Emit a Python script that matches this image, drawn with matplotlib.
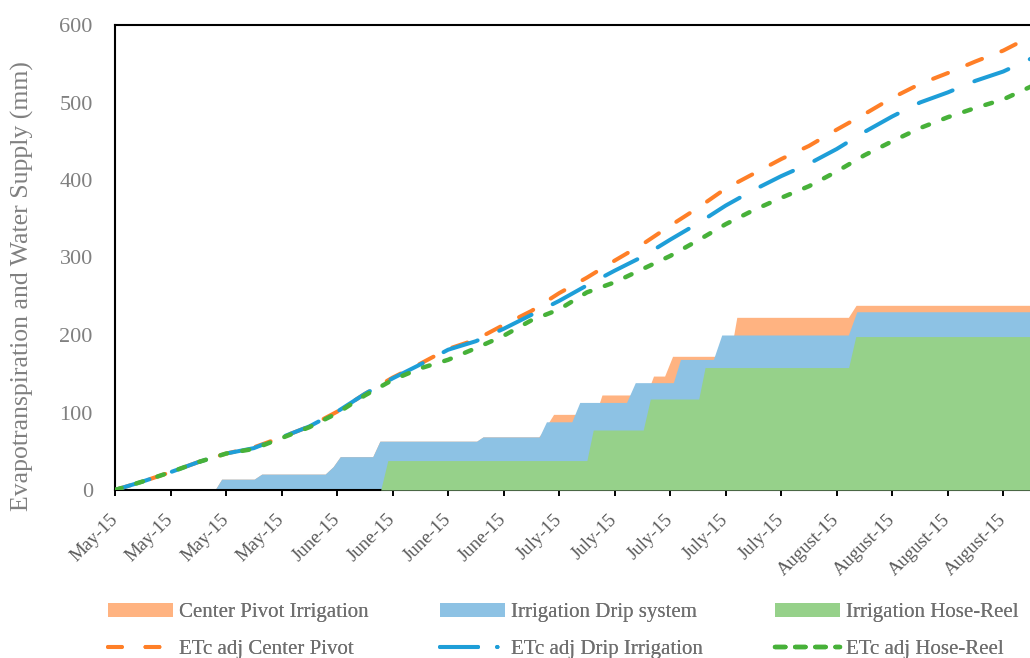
import matplotlib
matplotlib.use("Agg")
import matplotlib.pyplot as plt
from matplotlib.patches import Patch
from matplotlib.lines import Line2D
from matplotlib.transforms import ScaledTranslation

plt.rcParams['font.family'] = ['Liberation Serif', 'DejaVu Serif']
plt.rcParams['lines.scale_dashes'] = False

# ---- data (days counted from the first day of the season) ----
tick_days = [0, 7, 14, 21, 28, 35, 42, 49, 56, 63, 70, 77, 84, 91, 98, 105, 112]
tick_labels = ["May-15", "May-15", "May-15", "May-15",
               "June-15", "June-15", "June-15", "June-15",
               "July-15", "July-15", "July-15", "July-15", "July-15",
               "August-15", "August-15", "August-15", "August-15"]

# cumulative water supplied (mm), breakpoints of each irrigation step
pivot_days = [0, 12.6, 13.45, 17.55, 18.5, 26.5, 27.5, 28.4, 32.5, 33.4, 45.6, 46.4,
              53.4, 53.8, 55.3, 60.6, 61.4, 67.0, 67.9, 69.3, 70.3, 77.55, 78.4,
              92.47, 93.44, 116]
pivot_mm = [0, 0, 14, 14, 20.5, 20.5, 30, 43, 43, 63, 63, 68.5,
            68.5, 73, 97.6, 97.6, 122.6, 122.6, 147, 147, 172.5, 172.5, 222.8,
            222.8, 238.3, 238.3]

drip_days = [0, 12.6, 13.45, 17.55, 18.5, 26.5, 27.5, 28.4, 32.5, 33.4, 45.6, 46.4,
             53.5, 54.4, 57.6, 58.6, 64.5, 65.6, 70.4, 71.3, 75.45, 76.5,
             92.47, 93.53, 116]
drip_mm = [0, 0, 14, 14, 20.5, 20.5, 30, 43, 43, 63, 63, 68.5,
           68.5, 88, 88, 113, 113, 138.5, 138.5, 168.5, 168.5, 200,
           200, 230, 230]

reel_days = [0, 33.5, 34.4, 59.5, 60.3, 66.6, 67.5, 73.6, 74.4, 92.5, 93.4, 116]
reel_mm = [0, 0, 38, 38, 77.4, 77.4, 117.4, 117.4, 158, 158, 198, 198]

# cumulative adjusted crop evapotranspiration (mm)
etc_days = [0, 3.5, 7, 10.5, 14, 17.5, 21, 24.5, 28, 31.5, 35, 38.5, 42, 45.5, 49,
            52.5, 56, 59.5, 63, 66.5, 70, 73.5, 77, 80.5, 84, 87.5, 91, 94.5, 98,
            101.5, 105, 108.5, 112, 116]
etc_pivot = [0, 11, 23, 36, 47, 55, 68, 82, 101, 124, 145, 163, 182, 194, 213,
             231, 254, 274, 296, 317, 341, 364, 389, 408, 427, 444, 465, 485, 506,
             524, 538, 553, 567, 588]
etc_drip = [0, 11, 23, 36, 47, 54, 68, 82, 101, 124, 144, 162, 181, 192, 208,
            226, 244, 264, 283, 301, 323, 344, 367, 387, 405, 421, 440, 462, 482,
            500, 513, 528, 540, 559]
etc_reel = [0, 11, 23, 36, 47, 53, 67, 81, 99, 122, 142, 157, 168, 183, 199,
            219, 233, 255, 268, 285, 302, 322, 343, 361, 377, 392, 411, 432, 450,
            467, 481, 493, 504, 523]

# ---- styles ----
fill_pivot, fill_drip, fill_reel = '#FFB381', '#8DC2E4', '#96D18A'
line_pivot, line_drip, line_reel = '#FF7F27', '#1E9ED8', '#47B139'

W, H = 1030, 658
fig = plt.figure(figsize=(W / 100, H / 100), dpi=100)
ax = fig.add_axes([115 / W, 1 - 490 / H, 920 / W, 465 / H])

ax.fill_between(pivot_days, pivot_mm, color=fill_pivot, lw=0, zorder=1)
ax.fill_between(drip_days, drip_mm, color=fill_drip, lw=0, zorder=2)
ax.fill_between(reel_days, reel_mm, color=fill_reel, lw=0, zorder=3)

lw = 2.9
ax.plot(etc_days, etc_pivot, color=line_pivot, lw=lw, dashes=(11.5, 15),
        dash_capstyle='round', zorder=4)
ax.plot(etc_days, etc_drip, color=line_drip, lw=lw, dashes=(26, 17),
        dash_capstyle='round', zorder=5)
ax.plot(etc_days, etc_reel, color=line_reel, lw=3.2, dashes=(5, 11),
        dash_capstyle='round', zorder=6)

ax.set_xlim(0, 116.0)
ax.set_ylim(0, 600)
ax.set_yticks(range(0, 601, 100))
ax.set_xticks(tick_days)
ax.set_xticklabels(tick_labels, rotation=45, ha='right', va='center',
                   rotation_mode='anchor', fontsize=13.5, color='#595959')
for lab in ax.get_xticklabels():
    lab.set_transform(lab.get_transform() + ScaledTranslation(10 / 100, 0, fig.dpi_scale_trans))
ax.tick_params(axis='x', length=4.5, width=1.4, color='black', pad=15, direction='out')
ax.tick_params(axis='y', length=0, pad=16, labelsize=16, labelcolor='#808080')

for side in ['left', 'top', 'bottom', 'right']:
    ax.spines[side].set_linewidth(1.5)
    ax.spines[side].set_color('black')

fig.text(22 / W, 1 - 286 / H, "Evapotranspiration and Water Supply (mm)",
         rotation=90, ha='center', va='center', fontsize=18.5, color='#808080')

# ---- legend: three columns, area entry above its ETc line ----
fs = 15
fs_px = fs * 100 / 72
leg_kw = dict(loc='upper left', frameon=False, borderpad=0, borderaxespad=0,
              handlelength=65 / fs_px, handleheight=0.62, handletextpad=6 / fs_px,
              labelspacing=0.85, fontsize=fs, labelcolor='#6f6f6f',
              bbox_transform=fig.transFigure)
columns = [
    (108, Patch(facecolor=fill_pivot, edgecolor='none'), "Center Pivot Irrigation",
     Line2D([], [], color=line_pivot, lw=lw, dashes=(10, 17), dash_capstyle='round'),
     "ETc adj Center Pivot"),
    (440, Patch(facecolor=fill_drip, edgecolor='none'), "Irrigation Drip system",
     Line2D([], [], color=line_drip, lw=lw, dashes=(27.4, 13.7, 0.3, 13.7), dash_capstyle='round'),
     "ETc adj Drip Irrigation"),
    (775, Patch(facecolor=fill_reel, edgecolor='none'), "Irrigation Hose-Reel",
     Line2D([], [], color=line_reel, lw=3.2, dashes=(7.5, 7), dash_capstyle='round'),
     "ETc adj Hose-Reel"),
]
for x0, p, plab, ln, llab in columns:
    leg = fig.legend([p, ln], [plab, llab], bbox_to_anchor=(x0 / W, 1 - 603 / H), **leg_kw)
    fig.add_artist(leg)

fig.savefig("out.png", dpi=100)
